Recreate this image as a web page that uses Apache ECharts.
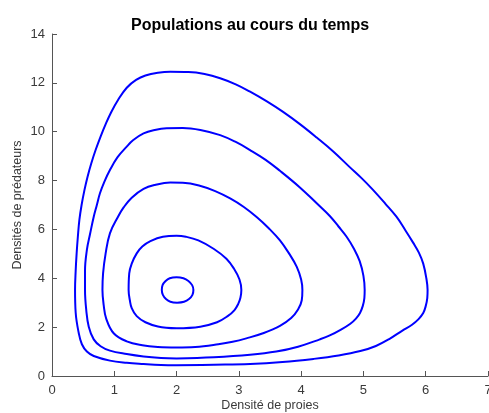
<!DOCTYPE html>
<html>
<head>
<meta charset="utf-8">
<script src="https://cdn.jsdelivr.net/npm/echarts@6/dist/echarts.min.js"></script>
<style>
  html, body { margin: 0; padding: 0; background: #fff; overflow: hidden; }
  #chart { width: 489px; height: 413px; }
</style>
</head>
<body>
<div id="chart"></div>
<script>
// trajectoires : [proies, prédateurs]
const orbit1 = [
  [2.01, 3.0], [2.12, 3.04], [2.2, 3.15], [2.255, 3.32], [2.27, 3.52], [2.25, 3.72], [2.19, 3.89],
  [2.11, 4.0], [2.0, 4.04], [1.89, 4.0], [1.82, 3.88], [1.775, 3.72], [1.763, 3.52], [1.78, 3.32],
  [1.83, 3.15], [1.9, 3.04], [2.01, 3.0]
];
const orbit2 = [
  [2.0, 1.95], [2.38, 2.02], [2.65, 2.2], [2.82, 2.45], [2.93, 2.7], [2.99, 2.95], [3.025, 3.2],
  [3.04, 3.52], [3.01, 3.95], [2.92, 4.4], [2.8, 4.8], [2.6, 5.2], [2.35, 5.55], [2.15, 5.7],
  [2.0, 5.74], [1.78, 5.7], [1.58, 5.52], [1.45, 5.3], [1.36, 5.02], [1.28, 4.6], [1.24, 4.2],
  [1.23, 3.52], [1.25, 3.1], [1.28, 2.78], [1.36, 2.45], [1.5, 2.2], [1.7, 2.03], [2.0, 1.95]
];
const orbit3 = [
  [2.0, 1.17], [2.3, 1.19], [2.67, 1.3], [2.9, 1.4], [3.12, 1.54], [3.4, 1.76], [3.66, 2.05],
  [3.84, 2.37], [3.95, 2.72], [4.01, 3.1], [4.02, 3.52], [4.0, 3.95], [3.93, 4.47], [3.81, 5.0],
  [3.66, 5.55], [3.48, 6.05], [3.29, 6.5], [3.08, 6.92], [2.86, 7.27], [2.62, 7.57], [2.36, 7.8],
  [2.1, 7.91], [1.9, 7.92], [1.65, 7.82], [1.47, 7.66], [1.28, 7.3], [1.15, 6.9], [1.06, 6.52],
  [0.93, 5.84], [0.86, 5.0], [0.82, 4.2], [0.81, 3.52], [0.83, 2.9], [0.87, 2.35], [0.99, 1.75],
  [1.2, 1.42], [1.45, 1.26], [1.7, 1.19], [2.0, 1.17]
];
const orbit4 = [
  [2.0, 0.72], [2.6, 0.77], [3.18, 0.87], [3.6, 1.0], [3.95, 1.2], [4.3, 1.5], [4.46, 1.66],
  [4.64, 1.9], [4.79, 2.14], [4.88, 2.35], [4.945, 2.58], [4.99, 2.87], [5.015, 3.19], [5.02, 3.52],
  [5.0, 4.1], [4.94, 4.7], [4.85, 5.2], [4.73, 5.7], [4.6, 6.12], [4.46, 6.55], [4.25, 7.07],
  [3.98, 7.72], [3.66, 8.4], [3.43, 8.85], [3.18, 9.25], [2.95, 9.58], [2.7, 9.86], [2.4, 10.06],
  [2.1, 10.15], [1.84, 10.14], [1.65, 10.07], [1.47, 9.93], [1.3, 9.65], [1.2, 9.39], [1.05, 8.95],
  [0.93, 8.43], [0.84, 7.95], [0.77, 7.48], [0.72, 7.0], [0.67, 6.52], [0.61, 5.8], [0.56, 5.16],
  [0.53, 4.3], [0.53, 3.52], [0.55, 2.7], [0.59, 2.02], [0.67, 1.5], [0.78, 1.22], [0.93, 1.04],
  [1.2, 0.9], [1.47, 0.8], [1.75, 0.74], [2.0, 0.72]
];
const orbit5 = [
  [2.0, 0.44], [2.6, 0.46], [3.18, 0.49], [3.7, 0.57], [4.2, 0.7], [4.6, 0.84], [4.95, 1.02],
  [5.2, 1.23], [5.42, 1.52], [5.62, 1.85], [5.78, 2.1], [5.885, 2.33], [5.96, 2.58], [6.0, 2.86],
  [6.025, 3.19], [6.03, 3.52], [6.01, 4.0], [5.96, 4.6], [5.89, 5.05], [5.8, 5.45], [5.67, 5.98],
  [5.53, 6.52], [5.35, 7.06], [5.15, 7.63], [4.97, 8.1], [4.78, 8.55], [4.52, 9.18], [4.25, 9.76],
  [3.98, 10.31], [3.71, 10.81], [3.45, 11.24], [3.18, 11.64], [2.95, 11.94], [2.7, 12.19],
  [2.45, 12.36], [2.19, 12.44], [1.9, 12.45], [1.7, 12.41], [1.5, 12.3], [1.35, 12.12],
  [1.2, 11.8], [1.06, 11.3], [0.95, 10.8], [0.86, 10.3], [0.78, 9.8], [0.7, 9.25], [0.63, 8.7],
  [0.57, 8.15], [0.52, 7.6], [0.475, 7.0], [0.44, 6.4], [0.415, 5.7], [0.395, 5.0], [0.38, 4.3],
  [0.37, 3.52], [0.38, 2.6], [0.43, 1.75], [0.48, 1.3], [0.56, 1.0], [0.67, 0.82], [0.93, 0.63],
  [1.2, 0.54], [1.47, 0.49], [1.75, 0.45], [2.0, 0.44]
];
const orbits = [orbit1, orbit2, orbit3, orbit4, orbit5];

const chart = echarts.init(document.getElementById("chart"), null, {
  renderer: "canvas",
  width: 489,
  height: 413,
});

const axisGrey = "#555555";
const textGrey = "#3a3a3a";
const fontName = "Liberation Sans";

chart.setOption({
  animation: false,
  backgroundColor: "#ffffff",
  title: {
    text: "Populations au cours du temps",
    left: 126,
    top: 13,
    textStyle: { fontFamily: fontName, fontSize: 16, fontWeight: "bold", color: "#000" },
  },
  grid: { left: 52, right: 1, top: 34, bottom: 37, outerBoundsMode: "none" },
  xAxis: {
    type: "value",
    min: 0,
    max: 7,
    interval: 1,
    name: "Densité de proies",
    nameLocation: "middle",
    nameGap: 23,
    nameMoveOverlap: false,
    nameTextStyle: { fontFamily: fontName, fontSize: 12.5, color: textGrey },
    axisLine: { onZero: false, lineStyle: { color: axisGrey, width: 1 } },
    axisTick: { inside: true, length: 5, lineStyle: { color: axisGrey } },
    axisLabel: { fontFamily: fontName, fontSize: 13, color: textGrey, margin: 8 },
    splitLine: { show: false },
  },
  yAxis: {
    type: "value",
    min: 0,
    max: 14,
    interval: 2,
    name: "Densités de prédateurs",
    nameLocation: "middle",
    nameGap: 28,
    nameMoveOverlap: false,
    nameTextStyle: { fontFamily: fontName, fontSize: 12.5, color: textGrey },
    axisLine: { show: true, onZero: false, lineStyle: { color: axisGrey, width: 1 } },
    axisTick: { show: true, inside: true, length: 5, lineStyle: { color: axisGrey } },
    axisLabel: { fontFamily: fontName, fontSize: 13, color: textGrey, margin: 7 },
    splitLine: { show: false },
  },
  series: orbits.map((pts) => ({
    type: "line",
    data: pts,
    smooth: 0.4,
    showSymbol: false,
    symbol: "none",
    clip: false,
    lineStyle: { color: "#0000ff", width: 2 },
  })),
});
</script>
</body>
</html>
